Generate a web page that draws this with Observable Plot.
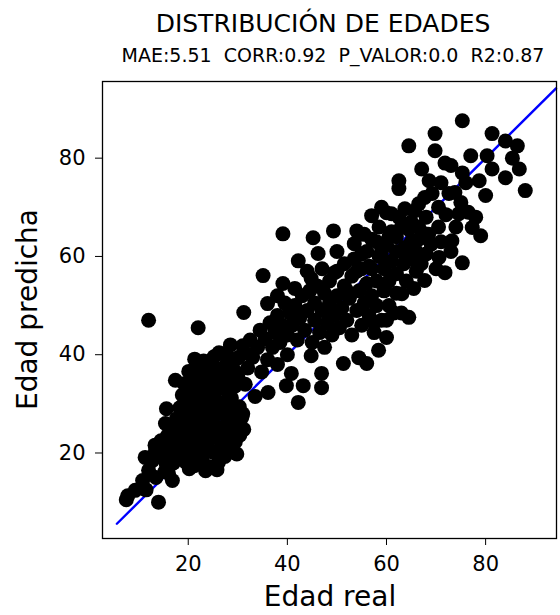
<!DOCTYPE html>
<html><head><meta charset="utf-8">
<script src="https://cdn.jsdelivr.net/npm/d3@7"></script>
<script src="https://cdn.jsdelivr.net/npm/@observablehq/plot@0.6"></script>
<style>
body{margin:0;background:#fff;}
svg{display:block;}
</style></head><body>
<div id="chart"></div>
<script>
const titleText = "DISTRIBUCIÓN DE EDADES";
const subtitleText = "MAE:5.51  CORR:0.92  P_VALOR:0.0  R2:0.87";
const xLabel = "Edad real";
const yLabel = "Edad predicha";
const xTicks = [20, 40, 60, 80];
const yTicks = [20, 40, 60, 80];
const lineEnds = [5.6, 94.2];

// [edad real, edad predicha]
const tailPts = [[7.5,10.5],[7.8,11.3],[9.3,12.4],[10.8,14.4],[11.5,12.5],[12,16.5],[12.8,18.5],[13.4,20.5],[14,10],[14.3,19.5],[15,21],[15.3,16.2],[16,15.9],[16.8,14.4],[15.5,18],[13.5,15],[16.2,20.5],[14.5,22.5],[15.8,23.5],[16.8,22],[17.3,25],[17,18],[17.4,34.8],[12,47],[11.3,19.1],[13.3,21.6],[15.4,26],[15.6,29]];
const lowCluster = [[19.5,18.2],[21.2,17.4],[22.8,18.6],[24.4,17.2],[26.1,18.1],[27.4,19.3],
[18.4,20.1],[20.3,20.6],[21.7,19.8],[23.4,20.9],[24.9,20.2],[26.6,21.1],[28.2,20.4],[29.5,22.3],
[17.8,22.4],[19.6,22.9],[21.1,22.2],[22.6,23.3],[24.2,22.6],[25.7,23.5],[27.3,22.8],[28.8,24.1],[30.4,23.6],
[18.1,24.7],[19.3,25.4],[20.8,24.6],[22.3,25.7],[23.7,24.9],[25.2,25.8],[26.8,25.1],[28.1,26.4],[29.6,25.9],[30.8,27.2],
[17.6,26.9],[19.8,27.6],[21.4,26.8],[22.9,27.9],[24.6,27.1],[26.1,28.2],[27.6,27.5],[29.1,28.6],[30.3,29.4],
[18.3,29.2],[19.7,30.1],[21.2,29.4],[22.7,30.5],[24.1,29.6],[25.6,30.7],[27.2,30.0],[28.7,31.2],
[18.8,31.8],[20.4,32.6],[21.9,31.7],[23.4,32.8],[24.9,32.1],[26.4,33.2],[27.9,32.5],[29.4,33.6],
[19.2,34.1],[20.8,35.0],[22.3,34.3],[23.8,35.4],[25.3,34.6],[26.8,35.7],[28.3,35.1],
[20.1,36.6],[21.6,37.4],[23.2,36.8],[24.7,37.9],[26.2,37.1],[27.8,38.2],
[21.3,39.1],[23.1,38.7],[25.2,39.6],[27.1,40.2],
[20.2,16.8],[23.5,16.4],[25.8,16.6],[31.2,24.8],[31,28],[29.8,19.8],
[19,21.5],[20.5,23.5],[22,21],[23,24],[24.5,23.8],[26,24.5],[27.5,24],[20,28.5],[23.5,28.5],[26.5,29.5],
[21,33.5],[24,33.5],[27,34],[22,36],[25,36.5],[28.5,37],[29.5,39],[30,35.5],[32.5,40],[28,39.5]];
const midLow = [[28.5,42],[29.5,36.5],[30.2,39.5],[31,41.8],[31.5,34],[32,37.3],[32.5,43],[33,39.5],[33.5,31.5],[34,41.5],[34.5,45],[34.8,36.5],[35.5,43.2],[36,39],[36.1,32.3],[36.5,46.5],[37,41.5],[37.5,44.5],[38,38],[38,48],[38.5,42.5],[39,46],[39.5,50.5],[40,44],[40.5,48.5],[40,40],[31.2,48.6],[36,50.4],[26.2,40.4],[22,45.5],[35.1,56.1],[39.1,54.5],[39.1,64.6],[42.2,59.1],[44.8,55.5],[38,52],[41.5,53.5]];
const lowOutliers = [[40.8,36.2],[39.8,33.7],[43.2,33.7],[42.2,30.3],[46.9,36.2],[46.9,33.3],[44.8,39.8],[51.3,38.2],[54.4,39.4],[56,38.2],[58.4,40.9],[60,43.5],[64.5,47.6]];
const midPts = [[41,46],[41.5,50],[42,43],[42.5,47.5],[43,52],[43.5,45],[44,49],[44.5,53],[45,42.5],[45.5,47],[45.5,50.5],[46,54],[46.5,44.5],[47,49],[47.5,52.5],[47.5,41.5],[48,46.5],[48.5,50.5],[48.5,55],[49,44],[49.5,48],[50,52],[50,57],[50.5,45.5],[51,49.5],[51.5,54],[51.5,58.5],[45.2,63.8],[49.3,65.2],[46.2,60.6],[49.5,56.7],[53.5,62.6],[50,61],[47,57.5],[44,57]];
const upperMid = [[52,47],[52.5,51.5],[53,56],[53,44],[53.5,59.5],[54,49],[54.5,53],[55,57.5],[55,46],[55.5,50.5],[56,54.5],[56,61],[56.5,48],[57,52],[57,57.5],[57,63.5],[57,68.3],[57.5,44.5],[58,50],[58,55],[58.5,60],[58.5,66],[59,47],[59.5,53],[59.5,57.5],[60,62.5],[60,68.9],[60.5,50],[60.5,55],[61,59],[61,65],[61,68.7],[62,52.5],[62,56.5],[62,61],[54,65.2],
[52,53],[54,57],[55,60.5],[56.5,58],[58,63],[59,61],[60.5,64],[62,64],[55.5,64.5],[59,70],[57.5,46.5],[60,47],[61.5,48.5]];
const highMid = [[62.5,73.8],[62.5,75.4],[63,48.5],[63.1,52.4],[63.5,58.5],[63.7,61.8],[63.7,69.7],[64,55],[64.5,65.5],[64.5,82.5],[65,59.5],[65,63],[65.7,69.3],[65.5,53.5],[66,57],[66,61],[66.5,70.7],[66.5,66],[67,58.5],[67.1,77.8],[67.7,64.6],[67.7,72],[67.7,55.1],[68,60.5],[68,68],[68.6,75.4],[69,62.5],[69.2,72.8],[69.8,81.5],[69.8,85],[70,57.5],[70.6,59.8],[70.5,66],[70.5,70],[71,63],[71.8,79],[71.8,56.7],[72,68.5],[72.6,72.8],
[63,66],[64,60],[65,67],[66.5,63.5],[68.5,64.5],[62.5,68]];
const highPts = [[73,61],[73.2,63.2],[73.8,73],[74,66],[74.6,68.7],[75,71],[75.3,87.6],[75.3,77],[75.3,58.7],[76,75],[76.5,69],[77.3,65.9],[78,68],[78.7,75.4],[79,64.2],[80,72.4],[80.3,80.5],[81.3,85],[81.3,77.8],[84,83.5],[84,76],[85.4,80],[86.4,82.5],[86.8,77.8],[88,73.4],[73,78.5],[77,80.5],[71,75]];

const points = [...tailPts, ...lowCluster, ...midLow, ...lowOutliers, ...midPts, ...upperMid, ...highMid, ...highPts]
  .map(([real, pred]) => ({real, pred}));
const diag = lineEnds.map(v => ({real: v, pred: v}));

const chart = Plot.plot({
  width: 560, height: 615,
  marginTop: 81, marginBottom: 77, marginLeft: 102, marginRight: 4,
  style: {fontFamily: "DejaVu Sans", fontSize: "21px", color: "#000", background: "#fff"},
  x: {domain: [2.7, 94.3]},
  y: {domain: [2.6, 95.6]},
  marks: [
    Plot.line(diag, {x: "real", y: "pred", stroke: "#0000ff", strokeWidth: 2.4}),
    Plot.dot(points, {x: "real", y: "pred", r: 7.5, fill: "black"}),
    Plot.frame({stroke: "black", strokeWidth: 1.3}),
    Plot.axisX({ticks: xTicks, tickSize: 7, tickPadding: 11, fontSize: 21, label: null}),
    Plot.axisY({ticks: yTicks, tickSize: 7, tickPadding: 10, fontSize: 21, label: null})
  ]
});
document.getElementById("chart").appendChild(chart);

const svg = d3.select(chart);
const ff = "DejaVu Sans";
svg.append("text").attr("x", 323).attr("y", 32).attr("text-anchor", "middle")
  .attr("font-family", ff).attr("font-size", 25).attr("fill", "#000").text(titleText);
svg.append("text").attr("x", 333).attr("y", 62).attr("text-anchor", "middle")
  .attr("font-family", ff).attr("font-size", 19).attr("fill", "#000")
  .attr("xml:space", "preserve").style("white-space", "pre").text(subtitleText);
svg.append("text").attr("x", 330).attr("y", 606).attr("text-anchor", "middle")
  .attr("font-family", ff).attr("font-size", 28).attr("fill", "#000").text(xLabel);
svg.append("text").attr("transform", "translate(37,309.5) rotate(-90)").attr("text-anchor", "middle")
  .attr("font-family", ff).attr("font-size", 28).attr("fill", "#000").text(yLabel);
</script>
</body></html>
